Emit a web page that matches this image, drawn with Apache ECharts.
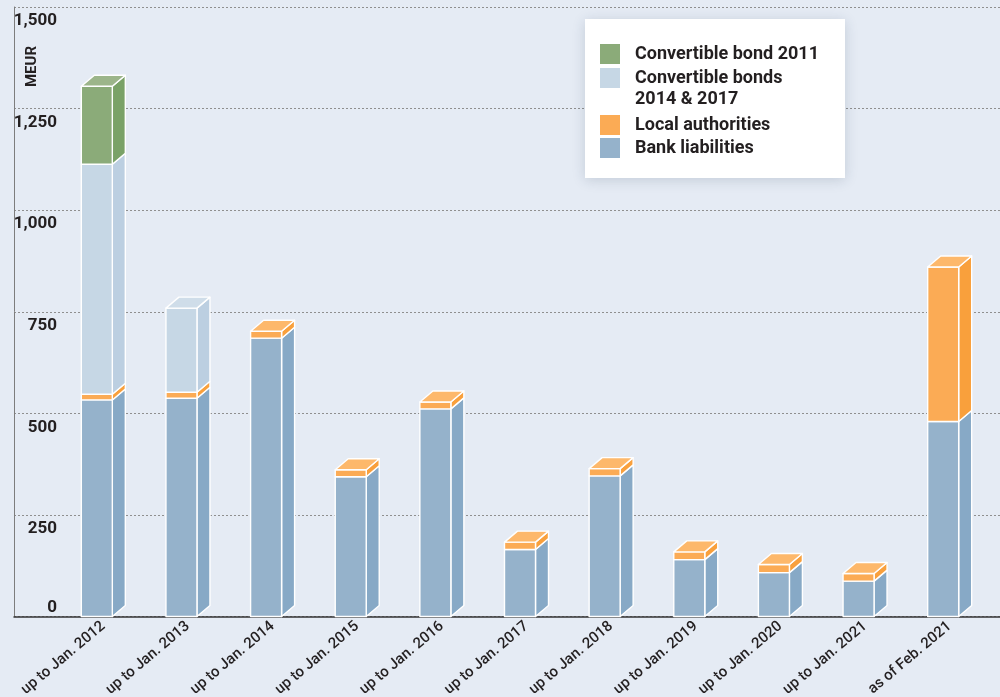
<!DOCTYPE html>
<html>
<head>
<meta charset="utf-8">
<script src="https://cdn.jsdelivr.net/npm/echarts@6/dist/echarts.min.js"></script>
<style>
html,body{margin:0;padding:0;background:#e5ebf4;}
#c{width:1000px;height:697px;}
</style>
</head>
<body>
<div id="c"></div>
<script>
const categories = ['up to Jan. 2012','up to Jan. 2013','up to Jan. 2014','up to Jan. 2015','up to Jan. 2016','up to Jan. 2017','up to Jan. 2018','up to Jan. 2019','up to Jan. 2020','up to Jan. 2021','as of Feb. 2021'];
const bankLiabilities = [533, 537, 685, 344, 511, 165, 346, 140, 108, 87, 480];
const localAuthorities = [14, 15, 17, 17, 17, 18, 18, 19, 20, 19, 380];
const convertibleBonds1417 = [566, 207, 0, 0, 0, 0, 0, 0, 0, 0, 0];
const convertibleBond2011 = [192, 0, 0, 0, 0, 0, 0, 0, 0, 0, 0];
const yTicks = [0, 250, 500, 750, 1000, 1250, 1500];

const FONT = 'Roboto, "Liberation Sans", sans-serif';
const TXT = '#231f20';
const FW = 31, DX = 13, DY = 11;
const CB_NAME = 'Convertible bonds 2014 & 2017';

const seriesDefs = [
  {name: 'Bank liabilities', values: bankLiabilities, front: '#95b2cb', side: '#87a9c6', top: '#a3bdd3'},
  {name: 'Local authorities', values: localAuthorities, front: '#fbab55', side: '#f9a03c', top: '#fdb86b'},
  {name: CB_NAME, values: convertibleBonds1417, front: '#c6d7e5', side: '#bccfe1', top: '#cfdde9'},
  {name: 'Convertible bond 2011', values: convertibleBond2011, front: '#8bab79', side: '#7aa267', top: '#9cb58a'}
];

const totals = categories.map((c, i) => seriesDefs.reduce((s, d) => s + d.values[i], 0));

function makeRender(def) {
  return function (params, api) {
    const i = api.value(0), b = api.value(1), t = api.value(2), isTop = api.value(3);
    if (!(t > b)) return null;
    const p0 = api.coord([i, b]);
    const p1 = api.coord([i, t]);
    const cx = p0[0];
    const fl = cx - (FW + DX) / 2;
    const fr = fl + FW;
    const yb = p0[1], yt = p1[1];
    const st = {stroke: '#ffffff', lineWidth: 1.4, lineJoin: 'round'};
    const children = [
      {type: 'polygon', shape: {points: [[fr, yb], [fr + DX, yb - DY], [fr + DX, yt - DY], [fr, yt]]}, style: Object.assign({fill: def.side}, st)},
      {type: 'rect', shape: {x: fl, y: yt, width: FW, height: yb - yt}, style: Object.assign({fill: def.front}, st)}
    ];
    if (isTop) {
      children.push({type: 'polygon', shape: {points: [[fl, yt], [fr, yt], [fr + DX, yt - DY], [fl + DX, yt - DY]]}, style: Object.assign({fill: def.top}, st)});
    }
    return {type: 'group', children: children};
  };
}

const base = categories.map(() => 0);
const series = seriesDefs.map(def => {
  const data = categories.map((c, i) => {
    const b = base[i];
    const t = b + def.values[i];
    base[i] = t;
    return [i, b, t, (def.values[i] > 0 && Math.abs(t - totals[i]) < 1e-9) ? 1 : 0];
  });
  return {
    type: 'custom',
    name: def.name,
    xAxisIndex: 1,
    yAxisIndex: 2,
    renderItem: makeRender(def),
    itemStyle: {color: def.front},
    encode: {x: 0, y: 2},
    data: data,
    z: 5
  };
});

const legendText = {fontFamily: FONT, fontWeight: 'bold', fontSize: 18, color: TXT, lineHeight: 20, padding: [0, 0, 0, 10]};
const legendCommon = {
  orient: 'vertical', left: 600, itemWidth: 20, itemHeight: 20, icon: 'rect',
  padding: 0, selectedMode: false, textStyle: legendText, z: 6,
  formatter: name => name === CB_NAME ? 'Convertible bonds' : name
};

const chart = echarts.init(document.getElementById('c'), null, {renderer: 'canvas'});
chart.setOption({
  backgroundColor: '#e5ebf4',
  animation: false,
  textStyle: {fontFamily: FONT},
  grid: [
    {left: 14, right: 0, top: 7, bottom: 80.5, outerBoundsMode: 'none', containLabel: false},
    {left: 61, right: 8, top: 7, bottom: 80.5, outerBoundsMode: 'none', containLabel: false}
  ],
  legend: [
    Object.assign({}, legendCommon, {top: 44, itemGap: 4, data: ['Convertible bond 2011', CB_NAME]}),
    Object.assign({}, legendCommon, {top: 115, itemGap: 3, data: ['Local authorities', 'Bank liabilities']})
  ],
  xAxis: [
    {gridIndex: 0, type: 'value', min: 0, max: 1, axisLine: {show: true, onZero: false, lineStyle: {color: '#333333', width: 1.5}}, axisTick: {show: false}, axisLabel: {show: false}, splitLine: {show: false}},
    {gridIndex: 1, type: 'category', data: categories, axisLine: {show: false}, axisTick: {show: false},
     axisLabel: {rotate: 40, margin: 8, fontFamily: FONT, fontWeight: 500, fontSize: 15, color: TXT, interval: 0}}
  ],
  yAxis: [
    {gridIndex: 0, type: 'value', position: 'left', min: 0, max: 1500, interval: 250,
     axisLine: {show: true, lineStyle: {color: '#7d7d7d', width: 1}},
     axisTick: {show: false},
     splitLine: {show: true, lineStyle: {color: '#8f8f8f', type: [2, 2], width: 1}},
     axisLabel: {inside: true, margin: 43, align: 'right', verticalAlign: 'top', lineHeight: 28,
       fontFamily: FONT, fontWeight: 'bold', fontSize: 17, color: TXT,
       formatter: v => v === 0 ? '' : v.toLocaleString('en-US')}},
    {gridIndex: 0, type: 'value', position: 'left', offset: 0, min: 0, max: 1500, interval: 250,
     axisLine: {show: false}, axisTick: {show: false}, splitLine: {show: false},
     axisLabel: {inside: true, margin: 43, align: 'right', verticalAlign: 'bottom', lineHeight: 18,
       fontFamily: FONT, fontWeight: 'bold', fontSize: 17, color: TXT,
       formatter: v => v === 0 ? '0' : ''}},
    {gridIndex: 1, type: 'value', min: 0, max: 1500, interval: 250, show: false}
  ],
  graphic: [
    {type: 'rect', z: 2, shape: {x: 585, y: 19, width: 260, height: 159},
     style: {fill: '#ffffff', shadowBlur: 12, shadowColor: 'rgba(40,60,90,0.18)', shadowOffsetY: 2}},
    {type: 'text', z: 7, x: 635, y: 99,
     style: {text: '2014 & 2017', fontFamily: FONT, fontWeight: 'bold', fontSize: 18, fill: TXT, verticalAlign: 'middle', align: 'left'}},
    {type: 'text', left: 25, top: 46, rotation: Math.PI / 2,
     style: {text: 'MEUR', fontFamily: FONT, fontWeight: 'bold', fontSize: 15, fill: TXT}}
  ],
  series: series
});
</script>
</body>
</html>
